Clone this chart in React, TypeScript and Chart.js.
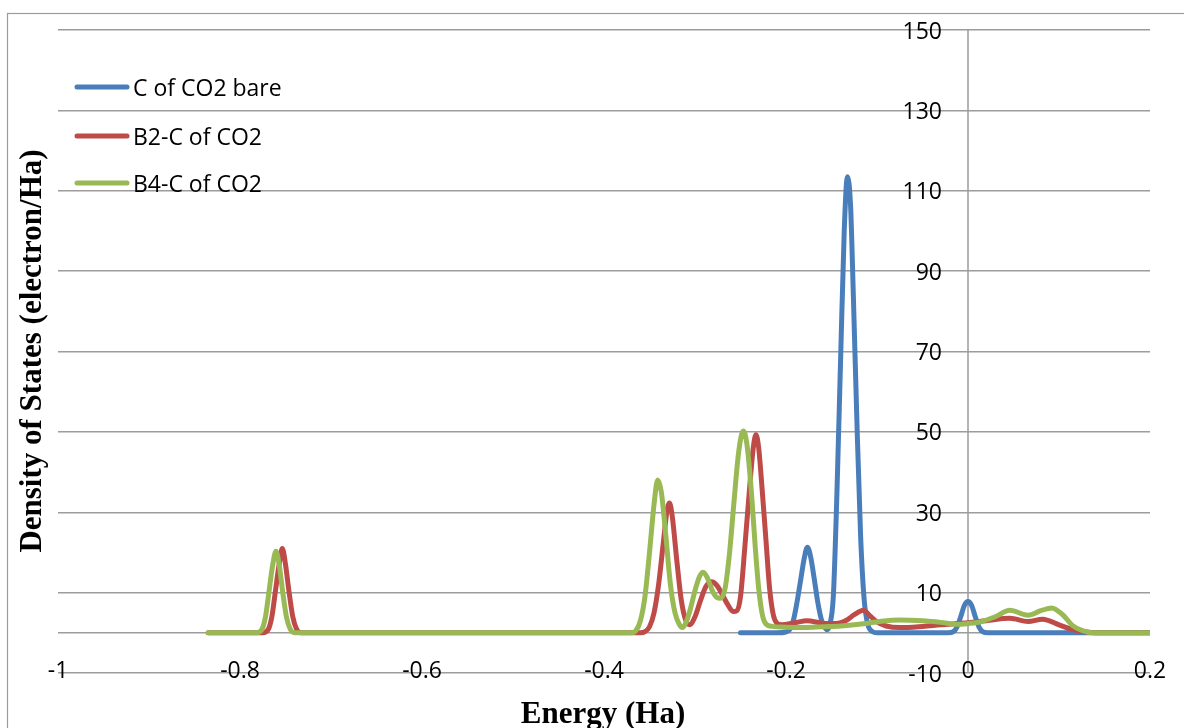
import { useEffect, useRef } from "react";
import { Chart, registerables } from "chart.js";

Chart.register(...registerables);

// ---------- data ----------
const seriesLabels = ["C of CO2 bare", "B2-C of CO2", "B4-C of CO2"];
const seriesColors = ["#4a7ebb", "#be4b48", "#98b954"];

const bareEnergy = [
  -0.25, -0.21, -0.2, -0.196, -0.192, -0.188, -0.184, -0.18, -0.1765, -0.173, -0.169, -0.165, -0.161, -0.157,
  -0.1545, -0.152, -0.148, -0.144, -0.14, -0.136, -0.1325, -0.129, -0.126, -0.122, -0.118, -0.114, -0.11,
  -0.105, -0.1, -0.022, -0.016, -0.012, -0.008, -0.004, 0, 0.004, 0.008, 0.012, 0.016, 0.022, 0.2,
];
const bareDos = [
  0, 0, 0.2, 0.8, 3, 7.5, 13, 18.5, 21.3, 19, 13.5, 7.5, 3.2, 1.2,
  0.8, 2, 9, 35, 68, 100, 113.5, 106, 84, 52, 24, 8, 2,
  0.3, 0, 0, 0.3, 1.5, 4, 6.8, 7.8, 6.8, 4, 1.5, 0.3, 0, 0,
];

const b2Energy = [
  -0.835, -0.775, -0.769, -0.765, -0.761, -0.757, -0.7535, -0.75, -0.746, -0.742, -0.738, -0.733,
  -0.36, -0.355, -0.35, -0.345, -0.34, -0.335, -0.331, -0.328, -0.325, -0.32, -0.315, -0.31, -0.306,
  -0.3, -0.294, -0.288, -0.282, -0.276, -0.27, -0.264, -0.258, -0.254, -0.25, -0.245, -0.24, -0.236,
  -0.233, -0.23, -0.226, -0.222, -0.218, -0.214, -0.21, -0.205, -0.19, -0.177, -0.16, -0.145, -0.133,
  -0.125, -0.115, -0.108, -0.1, -0.09, -0.075, -0.05, -0.03, 0, 0.02, 0.046, 0.066, 0.082, 0.1, 0.115,
  0.13, 0.14, 0.2,
];
const b2Dos = [
  0, 0, 0.8, 4, 10.5, 17, 21, 17, 10, 4, 1, 0,
  0, 0.3, 1.5, 5, 12, 22, 30, 32.3, 29, 18, 8, 3, 2,
  4, 8, 11.5, 12.7, 11.8, 9.5, 7, 5.3, 5.5, 9, 22, 36, 46,
  49.3, 46, 35, 23, 11, 4.5, 2.4, 2, 2.5, 3, 2.4, 2.3, 3.2,
  4.5, 5.6, 4.3, 2.7, 1.7, 1.3, 1.6, 2.0, 2.5, 3.0, 3.6, 2.8, 3.4, 2.0, 0.8,
  0.2, 0, 0,
];

const b4Energy = [
  -0.835, -0.782, -0.776, -0.772, -0.768, -0.764, -0.7605, -0.757, -0.753, -0.749, -0.745, -0.74,
  -0.37, -0.365, -0.36, -0.355, -0.35, -0.345, -0.341, -0.337, -0.332, -0.327, -0.322, -0.317, -0.314,
  -0.31, -0.305, -0.3, -0.295, -0.291, -0.286, -0.281, -0.276, -0.272, -0.267, -0.262, -0.257, -0.252,
  -0.247, -0.243, -0.238, -0.234, -0.23, -0.226, -0.222, -0.215, -0.2, -0.18, -0.16, -0.14, -0.125,
  -0.11, -0.095, -0.075, -0.05, -0.03, -0.012, 0, 0.013, 0.03, 0.046, 0.066, 0.08, 0.092, 0.104, 0.115,
  0.125, 0.137, 0.2,
];
const b4Dos = [
  0, 0, 0.8, 4, 10.5, 17, 20.3, 17, 10, 4, 1, 0,
  0, 0.5, 3, 9, 20, 32, 38, 35, 24, 12, 5, 2, 1.3,
  2.5, 6, 10.5, 14, 15.1, 13.5, 10.5, 8.8, 8.6, 11, 20, 33, 45,
  50.2, 47, 35, 22, 11, 4.5, 2.2, 1.6, 1.4, 1.3, 1.5, 1.7, 2.0,
  2.4, 2.9, 3.2, 3.0, 2.6, 2.1, 2.3, 2.7, 4.0, 5.6, 4.4, 5.5, 6.2, 4.5, 1.8,
  0.6, 0, 0,
];

const xMin = -1;
const xMax = 0.2;
const xStep = 0.2;
const yMin = -10;
const yMax = 150;
const yStep = 20;
const xAxisTitle = "Energy (Ha)";
const yAxisTitle = "Density of States (electron/Ha)";

// ---------- styling ----------
const GRID = "#9c9c9c";
const TICK_FONT = "23px 'Open Sans'";
const TITLE_FONT = "bold 31px 'Liberation Serif'";

function toPoints(xs: number[], ys: number[]) {
  return xs.map((x, i) => ({ x, y: ys[i] }));
}

function fmt(v: number) {
  const r = Math.round(v * 10) / 10;
  return Object.is(r, -0) ? "0" : String(r);
}

const decorPlugin = {
  id: "decor",
  beforeDraw(chart: any) {
    const ctx = chart.ctx;
    ctx.save();
    ctx.fillStyle = "#ffffff";
    ctx.fillRect(0, 0, chart.width, chart.height);
    ctx.strokeStyle = GRID;
    ctx.lineWidth = 1.2;
    ctx.strokeRect(7.5, 13.5, chart.width + 40, chart.height + 40);
    ctx.restore();
  },
  beforeDatasetsDraw(chart: any) {
    const { ctx, chartArea } = chart;
    const xs = chart.scales.x;
    const ys = chart.scales.y;
    const x0 = xs.getPixelForValue(0);
    const y0 = ys.getPixelForValue(0);
    ctx.save();
    ctx.strokeStyle = GRID;
    ctx.lineWidth = 1.5;
    ctx.beginPath();
    ctx.moveTo(chartArea.left, y0);
    ctx.lineTo(chartArea.right, y0);
    ctx.moveTo(x0, chartArea.top);
    ctx.lineTo(x0, chartArea.bottom);
    ctx.stroke();
    ctx.restore();
  },
  afterDraw(chart: any) {
    const ctx = chart.ctx;
    const xs = chart.scales.x;
    const ys = chart.scales.y;
    const x0 = xs.getPixelForValue(0);
    const yBottom = ys.getPixelForValue(yMin);
    ctx.save();
    ctx.fillStyle = "#000000";
    ctx.font = TICK_FONT;
    ctx.textBaseline = "alphabetic";

    // y tick labels, left of the vertical axis at x = 0
    ctx.textAlign = "right";
    ys.ticks.forEach((t: any) => {
      const py = ys.getPixelForValue(t.value);
      ctx.fillText(fmt(t.value), x0 - 26, py + 8.5);
    });

    // x tick labels along the bottom
    ctx.textAlign = "center";
    xs.ticks.forEach((t: any) => {
      const px = xs.getPixelForValue(t.value);
      ctx.fillText(fmt(t.value), px, yBottom - 4 + 8.5);
    });

    // axis titles
    ctx.font = TITLE_FONT;
    ctx.textAlign = "center";
    ctx.fillText(xAxisTitle, 603, 723);
    ctx.save();
    ctx.translate(41, 351);
    ctx.rotate(-Math.PI / 2);
    ctx.fillText(yAxisTitle, 0, 0);
    ctx.restore();

    // legend
    const legendY = [87, 136, 183];
    ctx.font = TICK_FONT;
    ctx.textAlign = "left";
    chart.data.datasets.forEach((ds: any, i: number) => {
      const ly = legendY[i];
      ctx.strokeStyle = ds.borderColor;
      ctx.lineWidth = 5;
      ctx.lineCap = "round";
      ctx.beginPath();
      ctx.moveTo(77, ly);
      ctx.lineTo(127, ly);
      ctx.stroke();
      ctx.fillStyle = "#000000";
      ctx.fillText(ds.label, 133, ly + 8.5);
    });
    ctx.restore();
  },
};

export default function App() {
  const canvasRef = useRef<HTMLCanvasElement | null>(null);

  useEffect(() => {
    const canvas = canvasRef.current;
    if (!canvas) return;
    const energies = [bareEnergy, b2Energy, b4Energy];
    const dos = [bareDos, b2Dos, b4Dos];
    const chart = new Chart(canvas, {
      type: "line",
      data: {
        datasets: seriesLabels.map((label, i) => ({
          label,
          data: toPoints(energies[i], dos[i]),
          borderColor: seriesColors[i],
          backgroundColor: seriesColors[i],
          borderWidth: 5,
          pointRadius: 0,
          pointHoverRadius: 0,
          cubicInterpolationMode: "monotone",
          borderCapStyle: "round",
          borderJoinStyle: "round",
          fill: false,
          order: 2 - i,
        })),
      },
      options: {
        animation: false,
        responsive: false,
        devicePixelRatio: 1,
        events: [],
        layout: { padding: { left: 58, right: 34, top: 30, bottom: 47 } },
        plugins: {
          legend: { display: false },
          tooltip: { enabled: false },
          title: { display: false },
        },
        scales: {
          x: {
            type: "linear",
            min: xMin,
            max: xMax,
            ticks: { display: false, stepSize: xStep },
            grid: { display: false },
            border: { display: false },
          },
          y: {
            type: "linear",
            min: yMin,
            max: yMax,
            ticks: { display: false, stepSize: yStep },
            grid: { color: GRID, lineWidth: 1.5, drawTicks: false },
            border: { display: false },
          },
        },
      },
      plugins: [decorPlugin],
    } as any);
    return () => chart.destroy();
  }, []);

  return (
    <div
      style={{
        position: "fixed",
        left: 0,
        top: 0,
        width: 1184,
        height: 728,
        overflow: "hidden",
        background: "#ffffff",
      }}
    >
      <canvas ref={canvasRef} width={1184} height={728} style={{ display: "block" }} />
    </div>
  );
}
